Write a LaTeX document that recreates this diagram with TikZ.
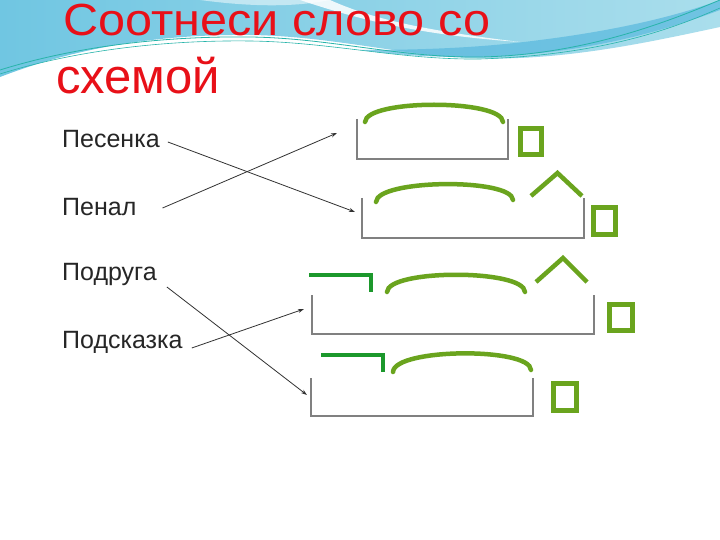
\documentclass[tikz,border=0pt]{standalone}
\usepackage{fontspec}
\setmainfont{Liberation Sans}
\usetikzlibrary{arrows.meta}
\definecolor{titlered}{RGB}{232,16,24}
\definecolor{olive}{RGB}{106,164,30}
\definecolor{prefgreen}{RGB}{28,152,44}
\definecolor{bracketgray}{RGB}{128,128,128}
\definecolor{arrowgray}{RGB}{50,50,50}
\definecolor{skyA}{RGB}{112,198,226}
\definecolor{skyB}{RGB}{170,222,236}
\definecolor{skyC}{RGB}{88,184,222}
\definecolor{tealline}{RGB}{40,180,170}
\tikzset{
  word/.style={anchor=base west, inner sep=0pt, font=\fontsize{25}{28}\selectfont, text=black!85},
  titletext/.style={anchor=base west, inner sep=0pt, text=titlered},
  rootarc/.style={draw=olive, line width=4.5pt, line cap=round},
  suffixcaret/.style={draw=olive, line width=4.5pt},
  endbox/.style={draw=olive, line width=4.5pt},
  prefixmark/.style={draw=prefgreen, line width=4pt},
  basebracket/.style={draw=bracketgray, line width=1.4pt},
  link/.style={draw=arrowgray, line width=0.8pt, -{Stealth[length=6pt,width=4pt]}}
}
\begin{document}
\begin{tikzpicture}[x=1pt,y=-1pt]
\useasboundingbox (0,0) rectangle (720,540);
\fill[white] (0,0) rectangle (720,540);
% background wave
\shade[left color=skyA, right color=skyB]
  (0,0) -- (720,0) -- (720,27)
  .. controls (650,42) and (560,62) .. (470,58)
  .. controls (400,55) and (330,36) .. (250,35)
  .. controls (150,34) and (70,50) .. (0,77) -- cycle;
\fill[skyC, opacity=0.7]
  (720,10) .. controls (640,40) and (560,56) .. (470,57)
  .. controls (420,57) and (390,54) .. (360,50)
  .. controls (420,50) and (480,48) .. (540,40)
  .. controls (620,30) and (680,15) .. (720,0) -- cycle;
\fill[white, opacity=0.85]
  (300,0) .. controls (360,20) and (420,35) .. (520,42)
  .. controls (420,30) and (370,18) .. (330,0) -- cycle;
\fill[white, opacity=0.5]
  (200,0) -- (330,0) .. controls (300,6) and (260,8) .. (200,0) -- cycle;
\draw[tealline, line width=0.8pt]
  (0,70) .. controls (80,45) and (170,36) .. (250,37)
  .. controls (330,38) and (400,58) .. (480,57)
  .. controls (580,55) and (660,25) .. (720,0);
\draw[tealline, line width=0.6pt]
  (0,74) .. controls (80,49) and (170,40) .. (250,41)
  .. controls (330,42) and (400,60) .. (480,59)
  .. controls (600,55) and (670,30) .. (720,8);
% title
\node[titletext, font=\fontsize{45}{50}\selectfont] (title1) at (63,36) {\scalebox{1.08}[1]{Соотнеси слово со}};
\node[titletext, font=\fontsize{49}{54}\selectfont] (title2) at (56,94) {схемой};
% words
\node[word] (w1) at (62,148) {Песенка};
\node[word] (w2) at (62,215) {Пенал};
\node[word] (w3) at (62,280) {Подруга};
\node[word] (w4) at (62,348) {Подсказка};
% scheme 1
\draw[basebracket] (357,119) -- (357,159) -- (508,159) -- (508,119);
\draw[rootarc] (365,122) .. controls (366,99) and (502,99) .. (503,122);
\draw[endbox] (520.5,128.5) rectangle (541.5,154.5);
\coordinate (s1) at (337,133);
% scheme 2
\draw[basebracket] (362,198) -- (362,238) -- (584,238) -- (584,198);
\draw[rootarc] (376,202) .. controls (377,179) and (512,178) .. (513,200);
\draw[suffixcaret] (531,196) -- (557.5,173) -- (582,196);
\draw[endbox] (593.5,207.5) rectangle (615.5,234.5);
\coordinate (s2) at (355,212);
% scheme 3
\draw[basebracket] (312,295) -- (312,334) -- (594,334) -- (594,295);
\draw[prefixmark] (309,275) -- (371,275) -- (371,292);
\draw[rootarc] (387,292) .. controls (388,269) and (524,269) .. (525,292);
\draw[suffixcaret] (536,282) -- (563,258) -- (587,282);
\draw[endbox] (609.5,304.5) rectangle (632.5,330.5);
\coordinate (s3) at (304,309);
% scheme 4
\draw[basebracket] (311,378) -- (311,416) -- (533,416) -- (533,378);
\draw[prefixmark] (321,355) -- (383,355) -- (383,372);
\draw[rootarc] (393,372) .. controls (394,348) and (530,347) .. (531,370);
\draw[endbox] (553.5,383.5) rectangle (576.5,410.5);
\coordinate (s4) at (307,395);
% connectors
\coordinate (w1o) at ([xshift=8pt,yshift=6pt]w1.base east);
\coordinate (w2o) at ([xshift=26pt,yshift=7pt]w2.base east);
\coordinate (w3o) at ([xshift=10pt,yshift=-7pt]w3.base east);
\coordinate (w4o) at ([xshift=9pt,yshift=0pt]w4.base east);
\draw[link] (w1o) -- (s2);
\draw[link] (w2o) -- (s1);
\draw[link] (w3o) -- (s4);
\draw[link] (w4o) -- (s3);
\end{tikzpicture}
\end{document}
